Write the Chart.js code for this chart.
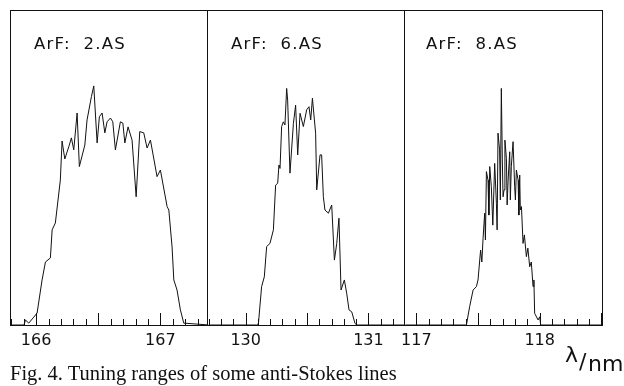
<!DOCTYPE html>
<html>
<head>
<meta charset="utf-8">
<script src="https://cdn.jsdelivr.net/npm/chart.js@4/dist/chart.umd.min.js"></script>
<style>
  html, body { margin: 0; padding: 0; background: #fff; }
  #wrap { position: relative; width: 624px; height: 386px; overflow: hidden; background: #fff; }
  canvas { position: absolute; left: 0; top: 0; }
  .lbl { position: absolute; font-family: "DejaVu Sans", sans-serif; font-size: 16.5px; line-height: 16px; letter-spacing: 1.2px; color: #111; white-space: pre; }
  .cap { position: absolute; left: 10px; top: 363px; font-family: "Liberation Serif", "Times New Roman", serif; font-size: 20.5px; line-height: 20.5px; color: #111; white-space: pre; }
  .unit { position: absolute; font-family: "DejaVu Sans", sans-serif; font-size: 22px; line-height: 22px; color: #111; white-space: pre; }
</style>
</head>
<body>
<div id="wrap">
  <canvas id="c1" width="624" height="386"></canvas>
  <canvas id="c2" width="624" height="386"></canvas>
  <canvas id="c3" width="624" height="386"></canvas>
  <div class="lbl" style="left:34px; top:36px;">ArF:  2.AS</div>
  <div class="lbl" style="left:231px; top:36px;">ArF:  6.AS</div>
  <div class="lbl" style="left:426px; top:36px;">ArF:  8.AS</div>
  <div class="cap">Fig. 4. Tuning ranges of some anti-Stokes lines</div>
  <div class="unit" style="left:565px; top:344px;">λ</div>
  <div class="unit" style="left:579px; top:351px;">/</div>
  <div class="unit" style="left:588px; top:353px;">nm</div>
</div>
<script>
// ---- Panel 1: ArF 2.AS (wavelength nm, relative intensity) ----
const p1Wavelength = [165.807,165.903,165.914,165.941,165.981,166.008,166.048,166.075,166.115,166.129,166.155,166.195,166.209,166.231,166.263,166.284,166.303,166.330,166.348,166.392,166.410,166.445,166.464,166.491,166.509,166.531,166.553,166.571,166.598,166.617,166.638,166.678,166.698,166.714,166.740,166.772,166.805,166.834,166.866,166.893,166.920,166.973,167.000,167.054,167.068,167.094,167.108,167.134,167.161,167.188,167.392];
const p1Intensity  = [0,0,1.6,0.6,2.5,3.8,14.3,20.0,21.3,30.2,32.4,46.0,58.4,52.7,56.6,59.4,55.6,67.3,50.3,57.1,65.1,72.5,75.9,57.8,66.1,67.3,61.0,64.5,65.7,64.5,55.6,64.5,64.1,57.8,62.9,58.7,40.7,61.4,61.0,56.2,58.7,47.1,49.2,37.6,36.5,24.8,14.3,11.1,4.8,0.6,0];
const p1Range = [165.79, 167.375];
const p1Ticks = [166, 167];

// ---- Panel 2: ArF 6.AS ----
const p2Wavelength = [129.698,130.090,130.104,130.130,130.152,130.171,130.198,130.226,130.234,130.244,130.261,130.271,130.280,130.293,130.307,130.320,130.334,130.342,130.361,130.389,130.407,130.424,130.443,130.470,130.497,130.516,130.530,130.544,130.560,130.570,130.579,130.606,130.619,130.633,130.646,130.674,130.701,130.723,130.742,130.760,130.777,130.804,130.823,130.842,130.864,130.891,130.905,131.304];
const p2Intensity  = [0,0,0.5,12.2,15.3,24.9,25.9,30.2,36.5,44.4,45.0,50.8,49.7,63.0,64.5,63.5,75.1,71.4,48.2,64.0,69.8,54.0,67.2,63.0,68.3,69.3,65.1,72.0,65.1,60.9,42.9,54.0,54.0,40.7,36.5,35.5,38.1,20.6,25.9,33.9,11.1,14.3,10.1,4.8,4.2,0.5,0,0];
const p2Range = [129.685, 131.29];
const p2Ticks = [130, 131];

// ---- Panel 3: ArF 8.AS ----
const p3Wavelength = [116.911,117.406,117.432,117.460,117.487,117.500,117.521,117.531,117.541,117.554,117.560,117.568,117.581,117.588,117.595,117.608,117.620,117.635,117.649,117.655,117.662,117.675,117.681,117.689,117.697,117.703,117.711,117.718,117.730,117.736,117.744,117.757,117.762,117.770,117.784,117.797,117.803,117.811,117.825,117.831,117.838,117.843,117.852,117.865,117.876,117.892,117.904,117.919,117.932,117.946,117.953,117.959,117.987,118.000,118.008,118.517];
const p3Intensity  = [0,0,5.8,11.1,12.2,14.3,23.8,20.0,27.5,35.5,27.0,48.7,46.0,34.9,50.3,43.9,31.7,51.3,38.6,30.2,60.9,55.6,39.7,75.1,52.4,40.7,42.9,58.7,52.9,38.1,46.0,55.0,39.7,50.3,58.2,43.9,39.7,49.2,46.0,34.9,47.6,36.5,37.6,25.9,28.6,21.7,24.4,18.5,20.0,12.2,14.3,3.7,1.6,2.6,0,0];
const p3Range = [116.90, 118.505];
const p3Ticks = [117, 118];

const INK = '#111';

const framePlugin = {
  id: 'frameTicks',
  afterDraw(chart) {
    const ctx = chart.ctx, a = chart.chartArea, xs = chart.scales.x;
    const L = Math.round(a.left), T = Math.round(a.top), R = Math.round(a.right), B = Math.round(a.bottom);
    ctx.save();
    ctx.fillStyle = INK;
    ctx.fillRect(L, T, R - L + 1, 1);
    ctx.fillRect(L, B, R - L + 1, 1);
    ctx.fillRect(L, T, 1, B - T + 1);
    ctx.fillRect(R, T, 1, B - T + 1);
    const lo = Math.ceil(xs.min * 10 - 1e-6), hi = Math.floor(xs.max * 10 + 1e-6);
    for (let k = lo; k <= hi; k++) {
      const px = Math.round(xs.getPixelForValue(k / 10));
      const len = (k % 5 === 0) ? 12 : 6;
      ctx.fillRect(px, B - len, 1, len);
    }
    ctx.restore();
  }
};

function makePanel(id, wl, inten, range, ticks, left, right) {
  const pts = wl.map((w, i) => ({ x: w, y: inten[i] }));
  return new Chart(document.getElementById(id), {
    type: 'line',
    data: { datasets: [{ data: pts, borderColor: INK, borderWidth: 1, pointRadius: 0, tension: 0, fill: false }] },
    options: {
      responsive: false,
      animation: false,
      devicePixelRatio: 1,
      layout: { padding: { left: left, right: 624 - right, top: 10, bottom: 21 } },
      plugins: { legend: { display: false }, tooltip: { enabled: false } },
      scales: {
        x: {
          type: 'linear', position: 'bottom', min: range[0], max: range[1],
          grid: { display: false, drawTicks: false },
          border: { display: false },
          ticks: { padding: 6, autoSkip: false, maxRotation: 0, color: INK,
                   font: { family: 'DejaVu Sans', size: 16 },
                   callback: (v) => String(Math.round(v)) },
          afterBuildTicks: (s) => { s.ticks = ticks.map(v => ({ value: v })); },
          afterFit: (s) => { s.height = 40; }
        },
        y: { display: false, min: 0, max: 100 }
      }
    },
    plugins: [framePlugin]
  });
}

makePanel('c1', p1Wavelength, p1Intensity, p1Range, p1Ticks, 10, 207);
makePanel('c2', p2Wavelength, p2Intensity, p2Range, p2Ticks, 207, 404);
makePanel('c3', p3Wavelength, p3Intensity, p3Range, p3Ticks, 404, 602);
</script>
</body>
</html>
